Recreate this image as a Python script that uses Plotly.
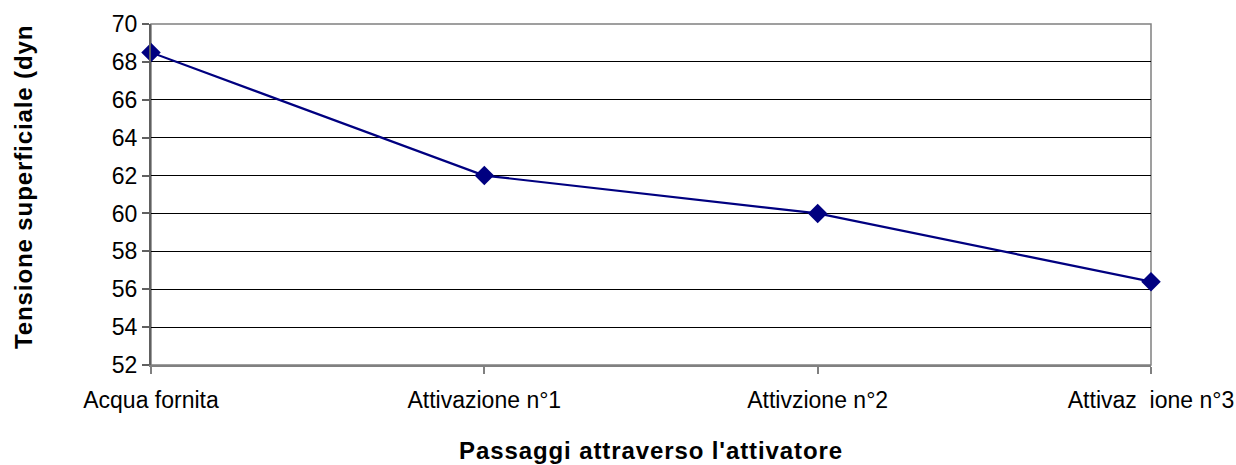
import plotly.graph_objects as go

categories = ["Acqua fornita", "Attivazione n°1", "Attivzione n°2", "Attivaz  ione n°3"]
values = [68.5, 62.0, 60.0, 56.4]
y_ticks = [52, 54, 56, 58, 60, 62, 64, 66, 68, 70]
x_title = "Passaggi attraverso l'attivatore"
y_title = "Tensione superficiale (dyn"

FONT = "Liberation Sans, Arial, sans-serif"

fig = go.Figure()
fig.add_trace(go.Scatter(
    x=categories, y=values, mode="lines+markers",
    line=dict(color="#000080", width=2.2),
    marker=dict(symbol="diamond", size=15, color="#000080"),
    showlegend=False, cliponaxis=False,
))

fig.update_layout(
    width=1236, height=465,
    margin=dict(l=151, r=85, t=24, b=100, autoexpand=False),
    paper_bgcolor="white", plot_bgcolor="white",
    font=dict(family=FONT, size=23, color="black"),
)
fig.update_xaxes(
    type="category", range=[0, 3], automargin=False,
    showgrid=False, showline=True, linecolor="#808080", linewidth=2,
    ticks="outside", ticklen=7, tickcolor="#808080", tickwidth=2,
    tickfont=dict(size=23), mirror=False, ticklabelstandoff=6,
)
fig.update_yaxes(
    range=[52, 70], tickvals=y_ticks, automargin=False,
    showgrid=True, gridcolor="black", gridwidth=1,
    showline=True, linecolor="#606060", linewidth=2,
    ticks="outside", ticklen=7, tickcolor="#606060", tickwidth=2,
    tickfont=dict(size=23), zeroline=False,
)
# plot frame (top and right border)
fig.add_shape(type="rect", xref="paper", yref="paper", x0=0, y0=0, x1=1, y1=1,
              line=dict(color="#808080", width=1.5), layer="below")

SP = '<span style="letter-spacing:0.9px">'
fig.add_annotation(text="<b>" + SP + x_title + "</span></b>", xref="paper", yref="paper",
                   x=0.5, y=-0.252, showarrow=False, yanchor="middle",
                   font=dict(size=24))
fig.add_annotation(text="<b>" + SP + y_title + "</span></b>", xref="paper", yref="paper",
                   x=-0.127, y=0.522, showarrow=False, textangle=-90,
                   xanchor="center", yanchor="middle", font=dict(size=24))

fig.write_html("out.html", config={"displayModeBar": False},
               post_script="document.body.style.margin='0px';document.body.style.overflow='hidden';")
